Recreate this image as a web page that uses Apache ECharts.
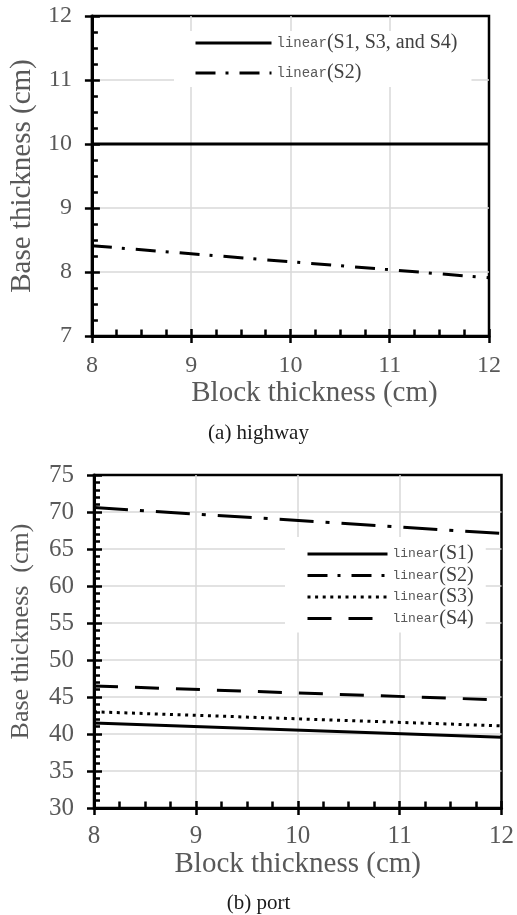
<!DOCTYPE html>
<html>
<head>
<meta charset="utf-8">
<script src="https://cdn.jsdelivr.net/npm/echarts@6/dist/echarts.min.js"></script>
<style>
  html, body { margin: 0; padding: 0; background: #fff; }
  #chart { width: 517px; height: 915px; }
</style>
</head>
<body>
<div id="chart"></div>
<script>
// block thickness (x) at the two ends of each trend line
var blockX = [8, 12];

// (a) highway
var hwS134 = [10, 10];
var hwS2 = [8.41, 7.91];

// (b) port
var portS1 = [41.5, 39.55];
var portS2 = [70.6, 67.1];
var portS3 = [43.0, 41.1];
var portS4 = [46.5, 44.6];

function pts(ys) {
  return blockX.map(function (x, i) { return [x, ys[i]]; });
}

var grey = '#595959';
var serif = 'Liberation Serif';
var gridLine = { show: true, showMinLine: false, showMaxLine: false, lineStyle: { color: '#d9d9d9', width: 1.5 } };

function tickLabel(fs, margin) {
  return {
    margin: margin,
    formatter: '{t|{value}}',
    rich: { t: { fontFamily: serif, fontSize: fs, color: grey } }
  };
}

// main axis: labels, line, inner ticks + minor ticks
function xMain(g, fs, margin, nameFs, nameGap, namePad) {
  return {
    type: 'value', gridIndex: g, min: 8, max: 12, interval: 1, position: 'bottom',
    name: 'Block thickness (cm)', nameLocation: 'middle', nameGap: nameGap,
    nameTextStyle: { fontFamily: serif, fontSize: nameFs, color: grey, padding: namePad, verticalAlign: 'top' },
    axisLine: { show: true, lineStyle: { color: '#000', width: 3 } },
    axisTick: { show: true, inside: true, length: 7, lineStyle: { color: '#000', width: 2.5 } },
    minorTick: { show: true, splitNumber: 4, length: 6.5, lineStyle: { color: '#000', width: 2.5 } },
    axisLabel: tickLabel(fs, margin),
    splitLine: gridLine
  };
}
// overlay axis: only the outer half of the major ticks
function xOuter(g) {
  return {
    type: 'value', gridIndex: g, min: 8, max: 12, interval: 1, position: 'bottom',
    axisLine: { show: false },
    axisTick: { show: true, inside: false, length: 7, lineStyle: { color: '#000', width: 2.5 } },
    axisLabel: { show: false, formatter: function () { return ''; } },
    splitLine: { show: false }
  };
}
function yMain(g, mn, mx, step, minor, fs, nameFs, nameGap, namePad, nameTxt) {
  return {
    type: 'value', gridIndex: g, min: mn, max: mx, interval: step, position: 'left',
    name: nameTxt, nameLocation: 'middle', nameGap: nameGap, nameRotate: 90,
    nameTextStyle: { fontFamily: serif, fontSize: nameFs, color: grey, padding: namePad },
    axisLine: { show: true, lineStyle: { color: '#000', width: 3 } },
    axisTick: { show: true, inside: true, length: 8, lineStyle: { color: '#000', width: 2.5 } },
    minorTick: { show: true, splitNumber: minor, length: 6, lineStyle: { color: '#000', width: 2.5 } },
    axisLabel: tickLabel(fs, 20),
    splitLine: gridLine
  };
}
function yOuter(g, mn, mx, step) {
  return {
    type: 'value', gridIndex: g, min: mn, max: mx, interval: step, position: 'left',
    axisLine: { show: false },
    axisTick: { show: true, inside: false, length: 7, lineStyle: { color: '#000', width: 2.5 } },
    axisLabel: { show: false, formatter: function () { return ''; } },
    splitLine: { show: false }
  };
}

function line(name, xi, yi, data, type) {
  return {
    name: name, type: 'line', xAxisIndex: xi, yAxisIndex: yi,
    data: pts(data), symbol: 'none', silent: true, animation: false,
    itemStyle: { color: '#000' },
    lineStyle: { color: '#000', width: 3, type: type, cap: 'butt' }
  };
}

function legendText(fsMono, fsSerif, lh) {
  return {
    rich: {
      m: { fontFamily: 'Liberation Mono', fontSize: fsMono, color: grey, lineHeight: lh },
      s: { fontFamily: serif, fontSize: fsSerif, color: '#404040', lineHeight: lh }
    }
  };
}
function fmt(name) { return '{m|linear}{s|' + name.slice(6) + '}'; }

var chart = echarts.init(document.getElementById('chart'));
chart.setOption({
  backgroundColor: '#fff',
  animation: false,
  textStyle: { fontFamily: serif },
  grid: [
    { left: 90, top: 16, width: 399, height: 320, show: true, borderColor: '#000', borderWidth: 2.5 },
    { left: 92, top: 475, width: 411, height: 333, show: true, borderColor: '#000', borderWidth: 2.5 }
  ],
  title: [
    { text: '(a) highway', left: 'center', top: 418, textStyle: { fontFamily: serif, fontSize: 21, fontWeight: 'normal', color: '#1a1a1a' } },
    { text: '(b) port', left: 'center', top: 888, textStyle: { fontFamily: serif, fontSize: 21, fontWeight: 'normal', color: '#1a1a1a' } }
  ],
  legend: [
    {
      data: ['linear(S1, S3, and S4)', 'linear(S2)'],
      orient: 'vertical', left: 174, top: 31, padding: [2, 14, 4, 20],
      itemWidth: 76, itemHeight: 14, itemGap: 10,
      backgroundColor: '#fff', selectedMode: false,
      itemStyle: { opacity: 0 },
      lineStyle: { width: 3, color: '#000' },
      formatter: fmt, textStyle: legendText(14, 20, 19)
    },
    {
      data: ['linear(S1)', 'linear(S2)', 'linear(S3)', 'linear(S4)'],
      orient: 'vertical', left: 285, top: 537, padding: [7, 12, 4, 21],
      itemWidth: 80, itemHeight: 14, itemGap: 1.5,
      backgroundColor: '#fff', selectedMode: false,
      itemStyle: { opacity: 0 },
      lineStyle: { width: 3, color: '#000' },
      formatter: fmt, textStyle: legendText(13, 20, 18)
    }
  ],
  xAxis: [
    xMain(0, 24, 18, 29, 37, [0, 0, 0, 48]),
    xOuter(0),
    xMain(1, 25, 16, 29, 41, [0, 0, 0, 0]),
    xOuter(1)
  ],
  yAxis: [
    yMain(0, 7, 12, 1, 4, 24, 29, 47, [0, 0, 0, 0], 'Base thickness (cm)'),
    yOuter(0, 7, 12, 1),
    yMain(1, 30, 75, 5, 5, 25, 26, 60, [0, 0, 0, 20], 'Base thickness  (cm)'),
    yOuter(1, 30, 75, 5)
  ],
  series: [
    line('linear(S1, S3, and S4)', 0, 0, hwS134, 'solid'),
    line('linear(S2)', 0, 0, hwS2, [20, 10, 3, 11]),
    line('linear(S1)', 2, 2, portS1, 'solid'),
    line('linear(S2)', 2, 2, portS2, [34, 12, 4, 12]),
    line('linear(S3)', 2, 2, portS3, [3, 4.6]),
    line('linear(S4)', 2, 2, portS4, [24, 17])
  ]
});
</script>
</body>
</html>
